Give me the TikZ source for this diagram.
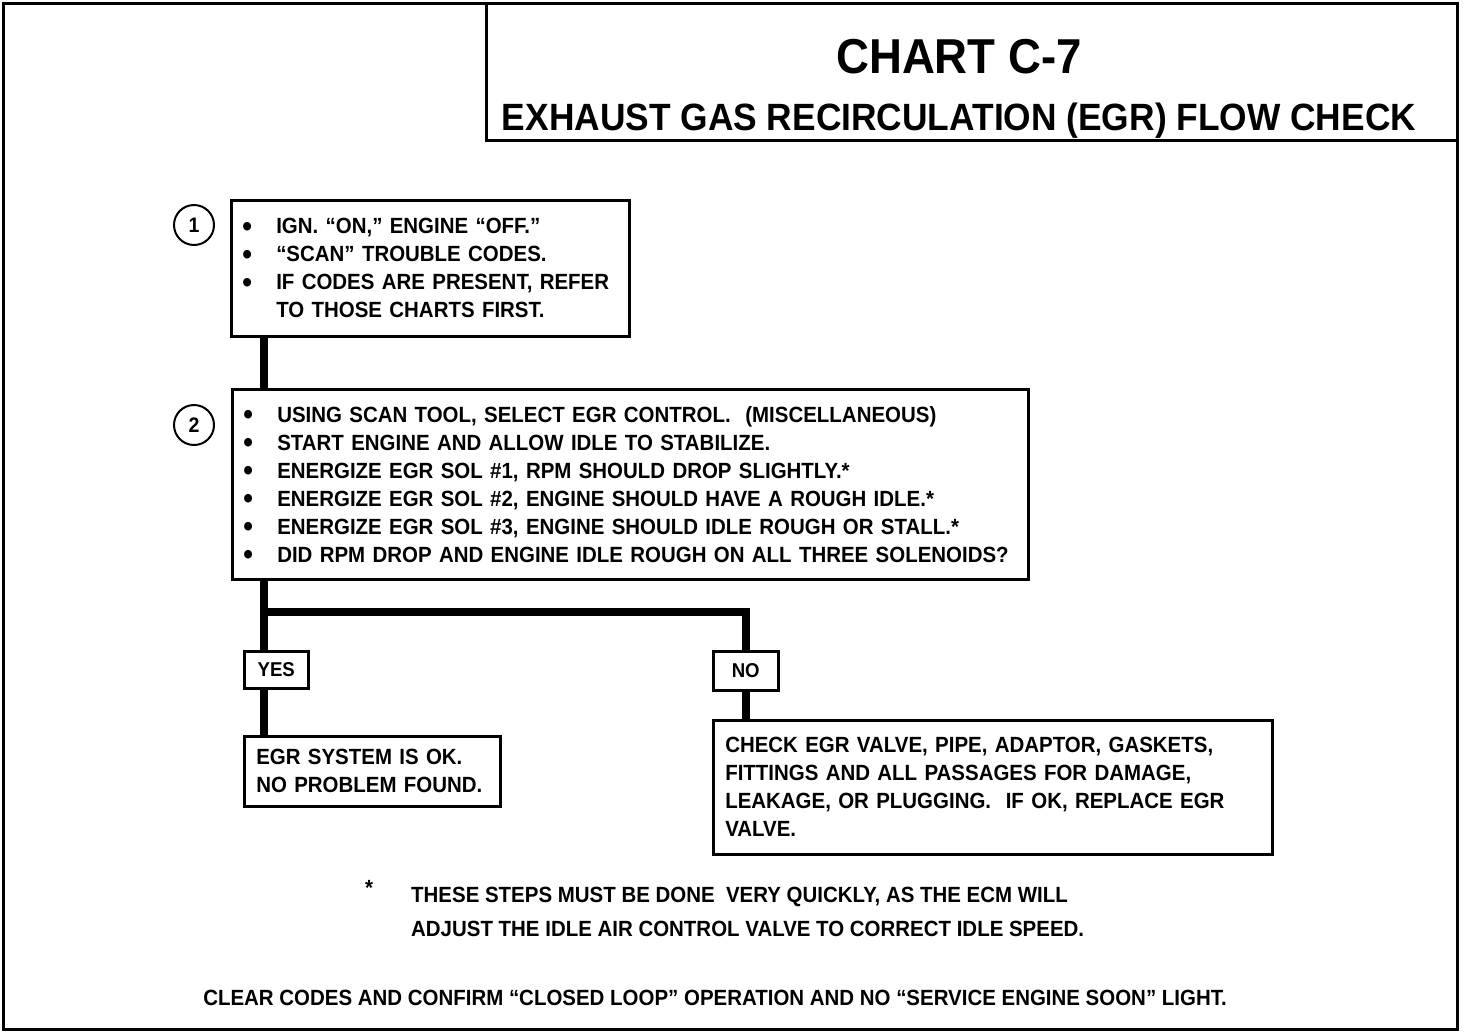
\documentclass[tikz,border=0pt]{standalone}
\usepackage{fontspec}
\usepackage{graphicx}
\setmainfont{Liberation Sans}[FakeStretch=0.93]
\usetikzlibrary{positioning}
\newcommand\chtfont{\fontsize{22}{28}\selectfont\bfseries}
\newcommand\lblfont{\fontsize{20}{24}\selectfont\bfseries}
\newcommand\bul{\makebox[34pt][l]{\smash{\raisebox{-2.5pt}{\scalebox{1.35}{\textbullet}}}}}
\newcommand\ind{\hspace*{34pt}}
\tikzset{
  % --- frame and boxes
  frame/.style = {draw, line width=3pt},
  box/.style   = {draw, line width=2.5pt, anchor=north west, align=left,
                  inner xsep=11pt, inner ysep=0pt, font=\chtfont},
  tag/.style   = {draw, line width=2.5pt, anchor=north west, inner sep=0pt,
                  font=\lblfont},
  num/.style   = {draw, circle, line width=2pt, minimum size=40pt, inner sep=0pt,
                  font=\fontsize{21}{21}\selectfont\bfseries},
  txt/.style   = {anchor=base west, inner sep=0pt, font=\chtfont},
  % --- connectors
  trunk/.style = {draw, line width=8pt},
}
\begin{document}
\begin{tikzpicture}[x=1pt,y=-1pt]
  \useasboundingbox (0,0) rectangle (1472,1034);
  \draw[frame] (3,3) rectangle (1457,1029);
  \draw[frame] (486,3) rectangle (1457,140);
  \node[anchor=base, inner sep=0pt, font=\fontsize{49}{49}\selectfont\bfseries] (chart) at (959,73) {CHART C-7};
  \node[anchor=base, inner sep=0pt, font=\fontsize{38}{38}\selectfont\bfseries] (sub) at (959,130) {EXHAUST GAS RECIRCULATION (EGR) FLOW CHECK};

  % steps
  \node[num] (n1) at (194,225) {1};
  \node[box, minimum width=398pt, minimum height=136pt, text width=376pt] (s1) at (230,199)
    {\bul IGN. “ON,” ENGINE “OFF.”\\
     \bul “SCAN” TROUBLE CODES.\\
     \bul IF CODES ARE PRESENT, REFER\\
     \ind TO THOSE CHARTS FIRST.};
  \node[num] (n2) at (194,425) {2};
  \node[box, minimum width=796pt, minimum height=190pt, text width=774pt] (s2) at (231,388)
    {\bul USING SCAN TOOL, SELECT EGR CONTROL.\ \ (MISCELLANEOUS)\\
     \bul START ENGINE AND ALLOW IDLE TO STABILIZE.\\
     \bul ENERGIZE EGR SOL \#1, RPM SHOULD DROP SLIGHTLY.*\\
     \bul ENERGIZE EGR SOL \#2, ENGINE SHOULD HAVE A ROUGH IDLE.*\\
     \bul ENERGIZE EGR SOL \#3, ENGINE SHOULD IDLE ROUGH OR STALL.*\\
     \bul DID RPM DROP AND ENGINE IDLE ROUGH ON ALL THREE SOLENOIDS?};

  % answers
  \node[tag, minimum width=64pt, minimum height=37pt] (yes) at (243,650) {YES};
  \node[tag, minimum width=65pt, minimum height=39pt] (no) at (712,650) {NO};
  \node[box, inner xsep=12pt, minimum width=256pt, minimum height=70pt, text width=232pt] (ok) at (243,735)
    {EGR SYSTEM IS OK.\\
     NO PROBLEM FOUND.};
  \node[box, inner xsep=12pt, minimum width=559pt, minimum height=134pt, text width=535pt] (chk) at (712,719)
    {CHECK EGR VALVE, PIPE, ADAPTOR, GASKETS,\\
     FITTINGS AND ALL PASSAGES FOR DAMAGE,\\
     LEAKAGE, OR PLUGGING.\ \ IF OK, REPLACE EGR\\
     VALVE.};

  % connectors
  \coordinate (sp) at (264,0);
  \coordinate (jn) at (0,612);
  \draw[trunk] (s1.south -| sp) -- (s2.north -| sp);
  \draw[trunk] (s2.south -| sp) -- (yes.north -| sp);
  \draw[trunk] (jn -| sp) -| (no.north);
  \draw[trunk] (yes.south -| sp) -- (ok.north -| sp);
  \draw[trunk] (no.south) -- (chk.north -| no.south);

  % notes
  \node[anchor=base, inner sep=0pt, font=\chtfont] (ast) at (369,895) {*};
  \node[txt] (nt1) at (411,902) {THESE STEPS MUST BE DONE\ \ VERY QUICKLY, AS THE ECM WILL};
  \node[txt] (nt2) at (411,936) {ADJUST THE IDLE AIR CONTROL VALVE TO CORRECT IDLE SPEED.};
  \node[anchor=base, inner sep=0pt, font=\chtfont] (clr) at (715,1005)
    {CLEAR CODES AND CONFIRM “CLOSED LOOP” OPERATION AND NO “SERVICE ENGINE SOON” LIGHT.};
\end{tikzpicture}
\end{document}
